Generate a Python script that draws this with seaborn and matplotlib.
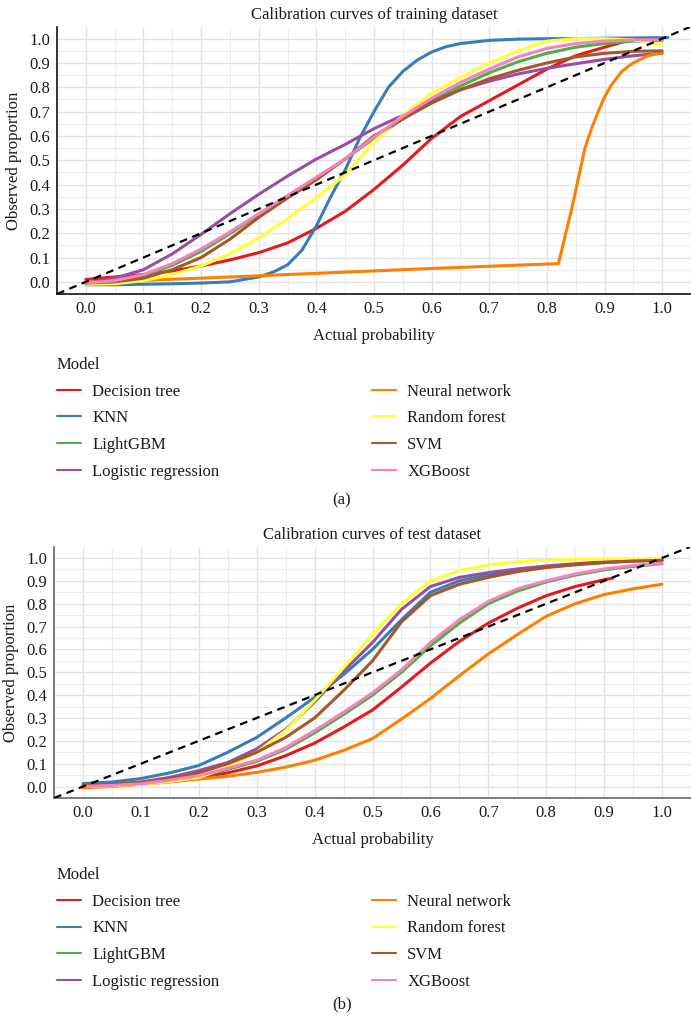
import numpy as np
import pandas as pd
import seaborn as sns
import matplotlib.pyplot as plt
from matplotlib.lines import Line2D
from matplotlib.ticker import MultipleLocator, FormatStrFormatter

sns.set_theme(style='whitegrid')
plt.rcParams['font.family'] = ['Liberation Serif', 'DejaVu Serif']

models = ['Decision tree', 'KNN', 'LightGBM', 'Logistic regression',
          'Neural network', 'Random forest', 'SVM', 'XGBoost']
colors = ['#E41A1C', '#377EB8', '#4DAF4A', '#984EA3',
          '#FF7F00', '#FFFF33', '#A65628', '#F781BF']
ticks = [0.0, 0.1, 0.2, 0.3, 0.4, 0.5, 0.6, 0.7, 0.8, 0.9, 1.0]

grid = [0.0, 0.05, 0.1, 0.15, 0.2, 0.25, 0.3, 0.35, 0.4, 0.45, 0.5,
        0.55, 0.6, 0.65, 0.7, 0.75, 0.8, 0.85, 0.9, 0.95, 1.0]

# ---- training dataset (a)
dt_train_x = [0.0, 0.05, 0.1, 0.15, 0.2, 0.25, 0.3, 0.35, 0.4, 0.45, 0.5,
              0.55, 0.6, 0.65, 0.7, 0.75, 0.8, 0.85, 0.9, 0.93]
dt_train_y = [0.01, 0.02, 0.03, 0.045, 0.065, 0.09, 0.12, 0.16, 0.22, 0.29, 0.38,
              0.48, 0.59, 0.68, 0.745, 0.81, 0.875, 0.93, 0.965, 0.985]
knn_train_x = [0.0, 0.05, 0.1, 0.15, 0.2, 0.25, 0.3, 0.325, 0.35, 0.375, 0.4, 0.425,
               0.45, 0.475, 0.5, 0.525, 0.55, 0.575, 0.6, 0.625, 0.65, 0.7, 0.75, 0.8,
               0.85, 0.9, 0.95, 1.0, 1.01]
knn_train_y = [-0.012, -0.012, -0.01, -0.008, -0.005, 0.0, 0.02, 0.04, 0.07, 0.13, 0.23,
               0.35, 0.46, 0.59, 0.7, 0.8, 0.865, 0.912, 0.945, 0.967, 0.98, 0.993, 0.998,
               1.0, 1.0, 1.002, 1.003, 1.004, 1.005]
lgbm_train_y = [-0.005, 0.003, 0.025, 0.068, 0.125, 0.198, 0.275, 0.352, 0.428, 0.505,
                0.59, 0.67, 0.745, 0.805, 0.86, 0.905, 0.94, 0.965, 0.98, 0.99, 0.993]
lr_train_y = [-0.005, 0.015, 0.05, 0.115, 0.195, 0.28, 0.36, 0.435, 0.505, 0.565,
              0.63, 0.685, 0.74, 0.79, 0.825, 0.855, 0.878, 0.897, 0.915, 0.93, 0.94]
nn_train_x = [0.0, 0.2, 0.4, 0.6, 0.82, 0.843, 0.866, 0.878, 0.889, 0.9, 0.912, 0.93,
              0.946, 0.962, 0.976, 0.99, 1.0]
nn_train_y = [-0.003, 0.015, 0.035, 0.055, 0.075, 0.30, 0.55, 0.635, 0.70, 0.76, 0.81,
              0.865, 0.895, 0.915, 0.93, 0.938, 0.94]
rf_train_y = [-0.01, -0.008, 0.005, 0.03, 0.065, 0.115, 0.18, 0.26, 0.345, 0.44,
              0.575, 0.685, 0.775, 0.84, 0.9, 0.95, 0.99, 1.0, 1.0, 0.995, 0.975]
svm_train_y = [-0.005, 0.0, 0.015, 0.05, 0.1, 0.175, 0.265, 0.345, 0.42, 0.505,
               0.6, 0.67, 0.735, 0.79, 0.835, 0.87, 0.9, 0.925, 0.94, 0.948, 0.95]
xgb_train_y = [-0.005, 0.005, 0.03, 0.075, 0.135, 0.205, 0.28, 0.355, 0.43, 0.505,
               0.595, 0.68, 0.755, 0.82, 0.875, 0.925, 0.96, 0.98, 0.99, 0.995, 0.995]

# ---- test dataset (b)
dt_test_x = [0.0, 0.05, 0.1, 0.15, 0.2, 0.25, 0.3, 0.35, 0.4, 0.45, 0.5,
             0.55, 0.6, 0.65, 0.7, 0.75, 0.8, 0.85, 0.9, 0.915]
dt_test_y = [0.0, 0.005, 0.012, 0.025, 0.04, 0.06, 0.09, 0.135, 0.19, 0.26, 0.335,
             0.435, 0.54, 0.635, 0.715, 0.78, 0.835, 0.875, 0.905, 0.912]
knn_test_y = [0.013, 0.02, 0.035, 0.06, 0.092, 0.15, 0.215, 0.3, 0.39, 0.49,
              0.6, 0.73, 0.85, 0.9, 0.926, 0.945, 0.96, 0.972, 0.98, 0.986, 0.99]
lgbm_test_y = [0.0, 0.004, 0.01, 0.025, 0.044, 0.075, 0.11, 0.163, 0.235, 0.315,
               0.4, 0.5, 0.615, 0.715, 0.8, 0.855, 0.895, 0.925, 0.948, 0.963, 0.975]
lr_test_y = [0.005, 0.01, 0.02, 0.04, 0.07, 0.105, 0.165, 0.25, 0.37, 0.505,
             0.63, 0.775, 0.875, 0.915, 0.936, 0.952, 0.965, 0.975, 0.983, 0.988, 0.99]
nn_test_y = [-0.005, 0.0, 0.01, 0.02, 0.033, 0.045, 0.062, 0.085, 0.115, 0.158,
             0.21, 0.295, 0.385, 0.485, 0.58, 0.665, 0.745, 0.8, 0.84, 0.865, 0.885]
rf_test_y = [0.0, 0.003, 0.01, 0.022, 0.04, 0.085, 0.15, 0.245, 0.377, 0.52,
             0.665, 0.8, 0.9, 0.945, 0.97, 0.983, 0.99, 0.994, 0.996, 0.997, 0.997]
svm_test_y = [0.005, 0.008, 0.018, 0.035, 0.06, 0.1, 0.15, 0.215, 0.3, 0.42,
              0.55, 0.72, 0.835, 0.885, 0.915, 0.94, 0.958, 0.97, 0.98, 0.987, 0.99]
xgb_test_y = [0.0, 0.005, 0.012, 0.028, 0.048, 0.08, 0.115, 0.17, 0.245, 0.325,
              0.41, 0.51, 0.63, 0.73, 0.81, 0.865, 0.9, 0.93, 0.952, 0.967, 0.977]

train = {
    'Decision tree': (dt_train_x, dt_train_y),
    'KNN': (knn_train_x, knn_train_y),
    'LightGBM': (grid, lgbm_train_y),
    'Logistic regression': (grid, lr_train_y),
    'Neural network': (nn_train_x, nn_train_y),
    'Random forest': (grid, rf_train_y),
    'SVM': (grid, svm_train_y),
    'XGBoost': (grid, xgb_train_y),
}
test = {
    'Decision tree': (dt_test_x, dt_test_y),
    'KNN': (grid, knn_test_y),
    'LightGBM': (grid, lgbm_test_y),
    'Logistic regression': (grid, lr_test_y),
    'Neural network': (grid, nn_test_y),
    'Random forest': (grid, rf_test_y),
    'SVM': (grid, svm_test_y),
    'XGBoost': (grid, xgb_test_y),
}


def to_long(d):
    parts = []
    for m in models:
        x, y = d[m]
        parts.append(pd.DataFrame({'Model': m, 'x': x, 'y': y}))
    return pd.concat(parts, ignore_index=True)


palette = dict(zip(models, colors))
txt = '#1a1a1a'
fs = 12


def panel(ax, df, title, spine_col):
    sns.lineplot(data=df, x='x', y='y', hue='Model', hue_order=models,
                 palette=palette, estimator=None, sort=False, lw=2.2,
                 legend=False, ax=ax)
    ax.axline((0, 0), slope=1, color='black', lw=1.6, dashes=(3.5, 2.5), zorder=5)
    ax.set_xlim(-0.05, 1.05)
    ax.set_ylim(-0.05, 1.048)
    ax.set_xticks(ticks)
    ax.set_yticks(ticks)
    ax.xaxis.set_minor_locator(MultipleLocator(0.05))
    ax.yaxis.set_minor_locator(MultipleLocator(0.05))
    ax.xaxis.set_major_formatter(FormatStrFormatter('%.1f'))
    ax.yaxis.set_major_formatter(FormatStrFormatter('%.1f'))
    ax.grid(which='major', color='#e3e3e3', lw=1.0)
    ax.grid(which='minor', color='#ececec', lw=0.8)
    ax.set_facecolor('white')
    for s in ['top', 'right']:
        ax.spines[s].set_visible(False)
    for s in ['left', 'bottom']:
        ax.spines[s].set_visible(True)
        ax.spines[s].set_color(spine_col)
        ax.spines[s].set_linewidth(1.2)
    ax.tick_params(which='both', length=0, labelsize=fs, labelcolor=txt, pad=5)
    ax.set_xlabel('Actual probability', fontsize=fs, color=txt, labelpad=8)
    ax.set_ylabel('Observed proportion', fontsize=fs, color=txt, labelpad=5)
    ax.set_title(title, fontsize=fs, color=txt, pad=6)


def legends(fig, top_px):
    handles = [Line2D([], [], color=c, lw=1.5) for c in colors]
    kw = dict(loc='upper left', frameon=False, fontsize=fs, title_fontsize=fs,
              handlelength=1.45, handletextpad=0.66, labelspacing=0.64, borderpad=0,
              borderaxespad=0, alignment='left')
    l1 = fig.legend(handles[:4], models[:4], title='Model',
                    bbox_to_anchor=(57 / 691, 1 - top_px / 1018), **kw)
    l2 = fig.legend(handles[4:], models[4:], title=' ',
                    bbox_to_anchor=(372 / 691, 1 - top_px / 1018), **kw)
    for lg in (l1, l2):
        for t in lg.get_texts():
            t.set_color(txt)
        lg.get_title().set_color(txt)


fig = plt.figure(figsize=(6.91, 10.18), dpi=100)
ax_a = fig.add_axes([57 / 691, 1 - 294 / 1018, 634 / 691, 267 / 1018])
ax_b = fig.add_axes([54 / 691, 1 - 798 / 1018, 637 / 691, 251 / 1018])

panel(ax_a, to_long(train), 'Calibration curves of training dataset', '#111111')
panel(ax_b, to_long(test), 'Calibration curves of test dataset', '#666666')

legends(fig, 357)
legends(fig, 867)

fig.text(0.495, 1 - 500 / 1018, '(a)', ha='center', va='center', fontsize=fs, color=txt)
fig.text(0.495, 1 - 1004 / 1018, '(b)', ha='center', va='center', fontsize=fs, color=txt)

fig.savefig('out.png', dpi=100)
